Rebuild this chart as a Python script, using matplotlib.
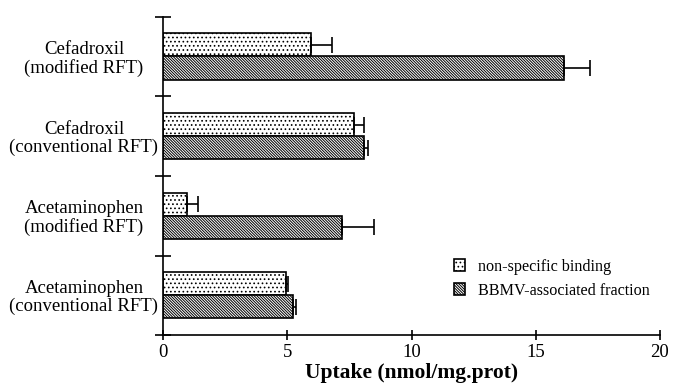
import matplotlib
matplotlib.use("Agg")
import matplotlib.pyplot as plt
import numpy as np

plt.rcParams['font.family'] = ['Liberation Serif', 'DejaVu Serif']
plt.rcParams['hatch.linewidth'] = 0.7

# categories listed bottom to top
categories = ["Acetaminophen\n(conventional RFT)", "Acetaminophen\n(modified RFT)",
              "Cefadroxil\n(conventional RFT)", "Cefadroxil\n(modified RFT)"]
nonspecific = [4.93, 0.97, 7.70, 5.94]
nonspecific_err = [0.08, 0.43, 0.37, 0.85]
bbmv = [5.24, 7.20, 8.10, 16.13]
bbmv_err = [0.09, 1.27, 0.13, 1.07]
x_ticks = [0, 5, 10, 15, 20]

fig = plt.figure(figsize=(6.77, 3.87), dpi=100)
ax = fig.add_axes([0.241, 0.134, 0.7337, 0.823])

y = np.arange(len(categories))
h = 0.29
err_kw = dict(ecolor='black', elinewidth=1.2, capsize=6, capthick=1.2)
zeros = np.zeros(len(categories))

ax.barh(y + h / 2, nonspecific, height=h, xerr=[zeros, nonspecific_err],
        color='white', edgecolor='black', linewidth=1.2, hatch='....',
        error_kw=err_kw, label='non-specific binding')
ax.barh(y - h / 2, bbmv, height=h, xerr=[zeros, bbmv_err],
        color='white', edgecolor='black', linewidth=1.2, hatch='\\' * 12,
        error_kw=err_kw, label='BBMV-associated fraction')

ax.set_xlim(0, 20)
ax.set_ylim(-0.5, 3.5)
ax.set_xticks(x_ticks)
ax.set_xticklabels([str(t) for t in x_ticks], fontsize=13.5)
ax.set_yticks(np.arange(-0.5, 4.0, 1.0))
ax.set_yticklabels([])
ax.set_yticks(y, minor=True)
ax.set_yticklabels(categories, minor=True, fontsize=13.5, linespacing=1.06,
                   ha='center')
ax.tick_params(axis='y', which='minor', length=0, pad=57)
ax.tick_params(axis='y', which='major', direction='inout', length=11, width=1.2)
ax.tick_params(axis='x', direction='inout', length=7, width=1.2, pad=3)

for s in ['top', 'right']:
    ax.spines[s].set_visible(False)
for s in ['left', 'bottom']:
    ax.spines[s].set_linewidth(1.2)

ax.set_xlabel('Uptake (nmol/mg.prot)', fontsize=15.5, fontweight='bold', labelpad=1)

leg = ax.legend(loc='lower right', bbox_to_anchor=(1.009, 0.069), frameon=False,
                fontsize=11.6, handlelength=0.7, handleheight=0.7,
                handletextpad=0.8, labelspacing=0.5)

fig.savefig('out.png', dpi=100)
